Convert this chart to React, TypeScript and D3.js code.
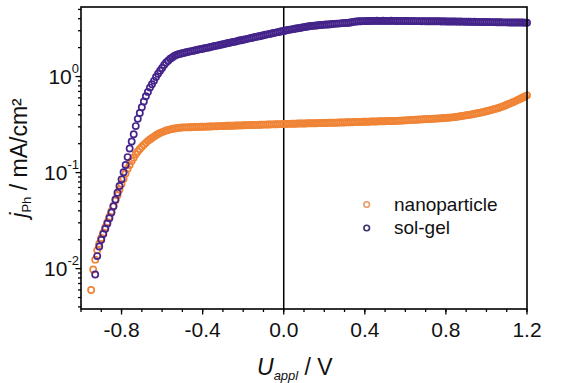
import React from "react";
import * as d3 from "d3";

const voltage = [
  -0.95, -0.94, -0.93, -0.92, -0.91, -0.9, -0.89, -0.88, -0.87, -0.86,
  -0.85, -0.84, -0.83, -0.82, -0.81, -0.8, -0.79, -0.78, -0.77, -0.76,
  -0.75, -0.74, -0.73, -0.72, -0.71, -0.7, -0.69, -0.68, -0.67, -0.66,
  -0.65, -0.64, -0.63, -0.62, -0.61, -0.6, -0.59, -0.58, -0.57, -0.56,
  -0.55, -0.54, -0.53, -0.52, -0.51, -0.5, -0.49, -0.48, -0.47, -0.46,
  -0.45, -0.44, -0.43, -0.42, -0.41, -0.4, -0.39, -0.38, -0.37, -0.36,
  -0.35, -0.34, -0.33, -0.32, -0.31, -0.3, -0.29, -0.28, -0.27, -0.26,
  -0.25, -0.24, -0.23, -0.22, -0.21, -0.2, -0.19, -0.18, -0.17, -0.16,
  -0.15, -0.14, -0.13, -0.12, -0.11, -0.1, -0.09, -0.08, -0.07, -0.06,
  -0.05, -0.04, -0.03, -0.02, -0.01, 0.0, 0.01, 0.02, 0.03, 0.04,
  0.05, 0.06, 0.07, 0.08, 0.09, 0.1, 0.11, 0.12, 0.13, 0.14,
  0.15, 0.16, 0.17, 0.18, 0.19, 0.2, 0.21, 0.22, 0.23, 0.24,
  0.25, 0.26, 0.27, 0.28, 0.29, 0.3, 0.31, 0.32, 0.33, 0.34,
  0.35, 0.36, 0.37, 0.38, 0.39, 0.4, 0.41, 0.42, 0.43, 0.44,
  0.45, 0.46, 0.47, 0.48, 0.49, 0.5, 0.51, 0.52, 0.53, 0.54,
  0.55, 0.56, 0.57, 0.58, 0.59, 0.6, 0.61, 0.62, 0.63, 0.64,
  0.65, 0.66, 0.67, 0.68, 0.69, 0.7, 0.71, 0.72, 0.73, 0.74,
  0.75, 0.76, 0.77, 0.78, 0.79, 0.8, 0.81, 0.82, 0.83, 0.84,
  0.85, 0.86, 0.87, 0.88, 0.89, 0.9, 0.91, 0.92, 0.93, 0.94,
  0.95, 0.96, 0.97, 0.98, 0.99, 1.0, 1.01, 1.02, 1.03, 1.04,
  1.05, 1.06, 1.07, 1.08, 1.09, 1.1, 1.11, 1.12, 1.13, 1.14,
  1.15, 1.16, 1.17, 1.18, 1.19, 1.2,
];

const nanoparticle = [
  0.006, 0.0098, 0.0124, 0.0155, 0.0182, 0.0209, 0.0237, 0.0269, 0.0305, 0.0347,
  0.0394, 0.0447, 0.0513, 0.0582, 0.0668, 0.0759, 0.0861, 0.0977, 0.11, 0.12,
  0.132, 0.143, 0.155, 0.166, 0.176, 0.186, 0.195, 0.204, 0.214, 0.221,
  0.229, 0.237, 0.245, 0.253, 0.259, 0.264, 0.269, 0.274, 0.278, 0.282,
  0.285, 0.288, 0.29, 0.292, 0.294, 0.295, 0.296, 0.296, 0.297, 0.297,
  0.298, 0.298, 0.299, 0.299, 0.3, 0.3, 0.301, 0.301, 0.302, 0.302,
  0.303, 0.303, 0.304, 0.305, 0.305, 0.306, 0.306, 0.307, 0.307, 0.308,
  0.308, 0.309, 0.309, 0.31, 0.31, 0.311, 0.311, 0.312, 0.312, 0.313,
  0.313, 0.314, 0.314, 0.315, 0.315, 0.316, 0.316, 0.317, 0.317, 0.318,
  0.318, 0.319, 0.319, 0.32, 0.32, 0.321, 0.321, 0.322, 0.322, 0.323,
  0.323, 0.323, 0.324, 0.324, 0.325, 0.325, 0.325, 0.326, 0.326, 0.327,
  0.327, 0.327, 0.328, 0.328, 0.329, 0.329, 0.329, 0.33, 0.33, 0.331,
  0.331, 0.331, 0.332, 0.332, 0.333, 0.333, 0.334, 0.334, 0.335, 0.335,
  0.336, 0.336, 0.337, 0.337, 0.338, 0.338, 0.339, 0.339, 0.34, 0.34,
  0.341, 0.341, 0.342, 0.342, 0.343, 0.343, 0.344, 0.344, 0.345, 0.345,
  0.346, 0.346, 0.347, 0.348, 0.349, 0.35, 0.351, 0.352, 0.353, 0.354,
  0.355, 0.356, 0.357, 0.358, 0.359, 0.36, 0.361, 0.362, 0.363, 0.364,
  0.365, 0.366, 0.367, 0.368, 0.37, 0.371, 0.372, 0.374, 0.376, 0.378,
  0.38, 0.383, 0.386, 0.389, 0.392, 0.395, 0.398, 0.401, 0.405, 0.409,
  0.413, 0.417, 0.421, 0.426, 0.431, 0.436, 0.441, 0.447, 0.453, 0.459,
  0.465, 0.472, 0.48, 0.489, 0.498, 0.508, 0.518, 0.529, 0.54, 0.552,
  0.565, 0.578, 0.592, 0.606, 0.621, 0.637,
];

const solGel: (number | null)[] = [
  null, null, 0.0087, 0.0135, 0.017, 0.02, 0.0229, 0.026, 0.0295, 0.0335,
  0.0385, 0.0447, 0.0525, 0.0617, 0.0724, 0.0851, 0.101, 0.12, 0.145, 0.178,
  0.211, 0.251, 0.305, 0.363, 0.417, 0.479, 0.55, 0.624, 0.692, 0.767,
  0.832, 0.902, 0.989, 1.07, 1.15, 1.23, 1.32, 1.4, 1.46, 1.53,
  1.58, 1.64, 1.68, 1.71, 1.73, 1.75, 1.77, 1.79, 1.81, 1.83,
  1.85, 1.87, 1.89, 1.91, 1.93, 1.95, 1.97, 1.99, 2.01, 2.03,
  2.06, 2.08, 2.1, 2.12, 2.15, 2.17, 2.19, 2.22, 2.24, 2.27,
  2.29, 2.31, 2.34, 2.37, 2.39, 2.42, 2.44, 2.47, 2.5, 2.52,
  2.55, 2.58, 2.61, 2.63, 2.66, 2.69, 2.72, 2.75, 2.78, 2.81,
  2.84, 2.87, 2.9, 2.93, 2.96, 2.99, 3.02, 3.05, 3.08, 3.1,
  3.13, 3.16, 3.18, 3.21, 3.24, 3.27, 3.3, 3.32, 3.36, 3.37,
  3.39, 3.4, 3.42, 3.44, 3.45, 3.47, 3.48, 3.49, 3.51, 3.52,
  3.54, 3.56, 3.56, 3.58, 3.6, 3.61, 3.62, 3.63, 3.65, 3.7,
  3.73, 3.75, 3.76, 3.77, 3.78, 3.78, 3.79, 3.79, 3.8, 3.8,
  3.8, 3.81, 3.8, 3.8, 3.81, 3.8, 3.8, 3.8, 3.81, 3.8,
  3.8, 3.79, 3.8, 3.8, 3.79, 3.8, 3.79, 3.79, 3.78, 3.79,
  3.78, 3.78, 3.78, 3.77, 3.78, 3.77, 3.77, 3.77, 3.76, 3.77,
  3.76, 3.76, 3.76, 3.75, 3.76, 3.75, 3.75, 3.75, 3.74, 3.74,
  3.74, 3.73, 3.74, 3.73, 3.73, 3.72, 3.72, 3.72, 3.71, 3.72,
  3.71, 3.71, 3.7, 3.71, 3.7, 3.7, 3.7, 3.69, 3.69, 3.69,
  3.68, 3.68, 3.68, 3.67, 3.67, 3.67, 3.66, 3.66, 3.66, 3.66,
  3.65, 3.65, 3.65, 3.65, 3.64, 3.64,
];

const xMajorTicks = [-0.8, -0.4, 0.0, 0.4, 0.8, 1.2];
const xTickLabels = ["-0.8", "-0.4", "0.0", "0.4", "0.8", "1.2"];
const yMajorTicks = [0.01, 0.1, 1];
const yTickExponents = ["-2", "-1", "0"];
const seriesNames = ["nanoparticle", "sol-gel"];

const W = 577;
const H = 383;
const left = 81;
const right = 527;
const top = 7;
const bottom = 309;
const FONT = "'Liberation Sans', Arial, Helvetica, sans-serif";
const ORANGE = "#f08436";
const PURPLE = "#44248a";

export default function App() {
  const x = d3.scaleLinear().domain([-1.0, 1.2]).range([left, right]);
  const y = d3.scaleLog().domain([0.0038, 5.3]).range([bottom, top]);

  const xMinor = x.ticks(22);
  const yMinor = y.ticks().filter((t) => !yMajorTicks.some((m) => Math.abs(m - t) / t < 1e-6));

  const orangePts = voltage.map((v, i) => ({ v, j: nanoparticle[i] })).filter((d) => d.j != null);
  const purplePts = voltage
    .map((v, i) => ({ v, j: solGel[i] }))
    .filter((d) => d.j != null) as { v: number; j: number }[];

  return (
    <svg
      width={W}
      height={H}
      style={{ position: "absolute", left: 0, top: 0, background: "#fff" }}
      fontFamily={FONT}
    >
      <rect x={0} y={0} width={W} height={H} fill="#fff" />
      {/* zero line */}
      <line x1={x(0)} x2={x(0)} y1={top} y2={bottom} stroke="#000" strokeWidth={1.5} />

      {/* data */}
      <g fill="none" stroke={ORANGE} strokeWidth={1.7}>
        {orangePts.map((d, i) => (
          <circle key={"o" + i} cx={x(d.v)} cy={y(d.j)} r={3.1} />
        ))}
      </g>
      <g fill="none" stroke={PURPLE} strokeWidth={1.7}>
        {purplePts.map((d, i) => (
          <circle key={"p" + i} cx={x(d.v)} cy={y(d.j)} r={3.1} />
        ))}
      </g>

      {/* frame */}
      <rect
        x={left}
        y={top}
        width={right - left}
        height={bottom - top}
        fill="none"
        stroke="#000"
        strokeWidth={1.6}
      />

      {/* x ticks */}
      <g stroke="#000" strokeWidth={1.3}>
        {xMinor.map((t, i) => (
          <line key={"xm" + i} x1={x(t)} x2={x(t)} y1={bottom} y2={bottom + 3} />
        ))}
        {xMajorTicks.map((t, i) => (
          <line key={"xM" + i} x1={x(t)} x2={x(t)} y1={bottom} y2={bottom + 5.5} />
        ))}
      </g>
      <g fontSize={21} textAnchor="middle" fill="#111">
        {xMajorTicks.map((t, i) => (
          <text key={"xl" + i} x={x(t)} y={337}>
            {xTickLabels[i]}
          </text>
        ))}
      </g>

      {/* y ticks */}
      <g stroke="#000" strokeWidth={1.3}>
        {yMinor.map((t, i) => (
          <line key={"ym" + i} x1={left - 3} x2={left} y1={y(t)} y2={y(t)} />
        ))}
        {yMajorTicks.map((t, i) => (
          <line key={"yM" + i} x1={left - 5.5} x2={left} y1={y(t)} y2={y(t)} />
        ))}
      </g>
      <g fontSize={21} textAnchor="end" fill="#111">
        {yMajorTicks.map((t, i) => (
          <text key={"yl" + i} x={79} y={y(t) + 7.5}>
            10
            <tspan fontSize={13} dy={-11}>
              {yTickExponents[i]}
            </tspan>
          </text>
        ))}
      </g>

      {/* axis titles */}
      <text x={257} y={375} fontSize={23} fill="#111">
        <tspan fontStyle="italic">U</tspan>
        <tspan fontStyle="italic" fontSize={13} dy={5}>
          appl
        </tspan>
        <tspan dy={-5}> / V</tspan>
      </text>
      <text
        transform="translate(27,158) rotate(-90)"
        textAnchor="middle"
        fontSize={23}
        fill="#111"
      >
        <tspan fontStyle="italic">j</tspan>
        <tspan fontSize={13} dy={4}>
          Ph
        </tspan>
        <tspan dy={-4}> / mA/cm²</tspan>
      </text>

      {/* legend */}
      <circle cx={366.7} cy={204.5} r={2.8} fill="none" stroke="#e79a66" strokeWidth={1.6} />
      <text x={394} y={210.5} fontSize={19} fill="#111">
        {seriesNames[0]}
      </text>
      <circle cx={366.7} cy={228} r={2.8} fill="none" stroke="#3b2f6e" strokeWidth={1.6} />
      <text x={394} y={234} fontSize={19} fill="#111">
        {seriesNames[1]}
      </text>
    </svg>
  );
}
